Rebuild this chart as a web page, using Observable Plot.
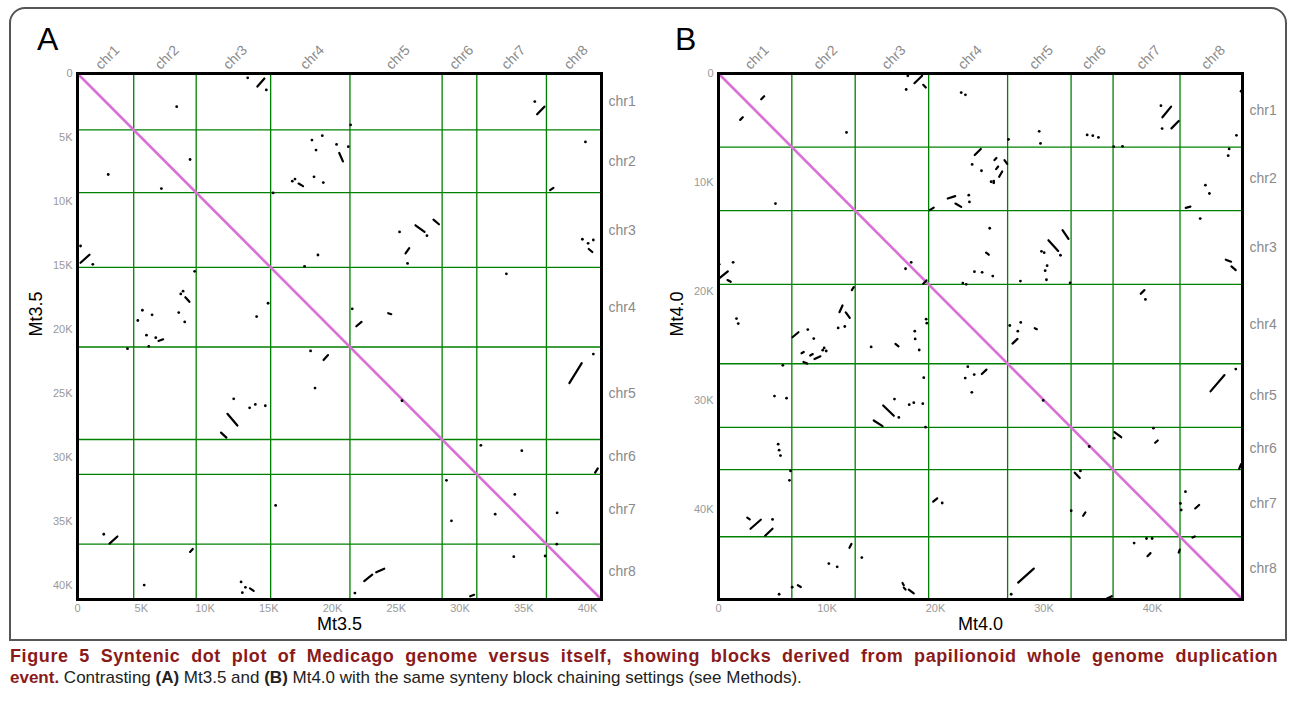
<!DOCTYPE html>
<html><head><meta charset="utf-8">
<script src="https://cdn.jsdelivr.net/npm/d3@7"></script>
<script src="https://cdn.jsdelivr.net/npm/@observablehq/plot@0.6"></script>
<style>
body{margin:0;background:#fff;font-family:"Liberation Sans",Arial,Helvetica,sans-serif;}
#wrap{position:relative;width:1290px;height:702px;overflow:hidden;background:#fff;}
#box{position:absolute;left:9px;top:7px;width:1274px;height:630px;border:2px solid #555;border-radius:16px 16px 0 0;}
.panel{position:absolute;top:0;}
.letter{position:absolute;top:21px;font-size:32px;color:#000;}
#caption{position:absolute;left:10px;top:645px;width:1268px;font-size:17px;line-height:22px;color:#222;}
#caption .l1{text-align:justify;text-align-last:justify;font-weight:bold;color:#8b1a1a;font-size:18px;letter-spacing:0.6px;}
#caption b.t{color:#8b1a1a;}
</style>
</head><body>
<div id="wrap">
  <div id="box"></div>
  <div class="panel" id="pA" style="left:0px"></div>
  <div class="panel" id="pB" style="left:641px"></div>
  <div class="letter" style="left:37px">A</div>
  <div class="letter" style="left:675px">B</div>
  <div id="caption">
    <div class="l1">Figure 5 Syntenic dot plot of Medicago genome versus itself, showing blocks derived from papilionoid whole genome duplication</div>
    <div><b class="t">event.</b> Contrasting <b>(A)</b> Mt3.5 and <b>(B)</b> Mt4.0 with the same synteny block chaining settings (see Methods).</div>
  </div>
</div>
<script>
const FONT = "Liberation Sans, Arial, Helvetica, sans-serif";
const chrNames = ["chr1","chr2","chr3","chr4","chr5","chr6","chr7","chr8"];
// chromosome end positions (thousands of genes along the concatenated genome)
const chrEndsA = [4.41, 9.31, 15.15, 21.37, 28.6, 31.32, 36.78, 41.1];
const chrEndsB = [6.76, 12.6, 19.37, 26.65, 32.5, 36.37, 42.54, 48.3];
const ticksA = [0, 5, 10, 15, 20, 25, 30, 35, 40];
const ticksB = [0, 10, 20, 30, 40];
const labelA = "Mt3.5";
const labelB = "Mt4.0";

// single anchor points [x, y] (K)
const dotsA = [[13.35,0.34],[14.81,1.28],[7.78,2.59],[8.83,6.72],[2.41,7.89],[6.58,8.99],[15.34,9.33],[18.39,5.20],[18.71,5.98],[18.55,8.07],[17.06,8.25],[16.85,8.41],[35.87,2.19],[21.42,4.02],[19.20,4.86],[20.32,5.54],[21.24,5.72],[19.28,8.52],[39.84,5.35],[0.24,13.48],[1.20,14.91],[9.19,15.46],[8.28,17.01],[8.10,17.22],[5.09,18.50],[7.94,18.68],[5.85,18.86],[4.73,19.30],[8.41,19.41],[5.41,20.45],[6.14,20.64],[5.59,21.32],[3.92,21.50],[17.81,15.07],[18.86,14.18],[14.95,17.95],[14.05,18.99],[18.28,21.68],[18.63,24.58],[12.25,25.42],[13.50,26.12],[13.95,25.86],[14.73,25.96],[25.26,12.38],[27.41,12.67],[25.89,14.84],[39.60,12.95],[40.05,13.27],[40.46,13.01],[33.64,15.65],[21.55,18.39],[25.45,25.57],[40.46,21.92],[15.54,33.75],[2.06,36.00],[5.23,39.97],[12.83,39.73],[13.17,40.15],[12.93,40.57],[31.64,29.05],[34.85,29.47],[28.94,31.79],[34.30,32.89],[32.76,34.43],[37.62,34.33],[29.33,34.95],[37.59,36.78],[34.22,37.75],[36.68,37.70],[21.76,40.60]];
// synteny block segments [x1, y1, x2, y2] (K)
const segsA = [[14.11,1.02,14.66,0.39],[17.34,8.60,17.69,8.80],[36.05,3.19,36.62,2.59],[20.53,6.21,20.82,6.87],[37.07,9.11,37.33,8.93],[0.24,14.79,0.94,14.16],[8.46,17.48,8.78,17.84],[6.35,20.90,6.72,20.77],[11.76,26.59,12.54,27.51],[11.26,28.06,11.68,28.45],[26.51,11.86,27.22,12.38],[27.92,11.42,28.35,11.78],[25.73,14.05,26.02,13.64],[40.10,13.71,40.38,13.95],[21.87,19.75,22.28,19.41],[24.37,18.73,24.61,18.81],[19.30,22.39,19.65,22.00],[38.58,24.19,39.55,22.63],[2.51,36.73,3.13,36.18],[8.83,37.38,9.04,37.15],[13.53,40.23,13.82,40.42],[40.60,31.19,40.81,30.85],[22.49,39.66,23.12,39.16],[23.43,38.97,24.06,38.69],[30.80,40.85,31.11,40.73]];

const dotsB = [[11.80,5.41],[17.30,1.47],[17.45,0.21],[22.37,1.75],[22.76,1.96],[23.07,11.17],[48.17,1.63],[40.78,2.95],[40.89,5.06],[47.74,5.68],[26.73,6.05],[29.56,5.31],[29.68,6.42],[33.98,5.64],[34.50,5.71],[35.02,5.87],[36.43,6.72],[37.24,6.69],[47.07,6.93],[46.98,7.55],[23.38,8.35],[24.24,8.93],[25.13,9.94],[25.37,9.88],[25.37,10.04],[44.88,10.25],[45.25,11.02],[5.25,11.94],[23.13,11.79],[0.06,17.52],[1.35,17.34],[17.76,17.34],[17.24,17.93],[22.52,19.24],[22.83,19.36],[1.66,22.50],[1.82,22.96],[19.14,22.56],[19.20,22.93],[11.03,23.36],[11.64,23.23],[8.23,23.51],[8.78,24.34],[18.09,23.66],[18.13,24.37],[14.07,25.11],[18.50,25.39],[9.74,25.20],[9.93,25.48],[9.61,25.41],[5.93,26.80],[22.98,26.92],[22.74,27.97],[18.92,27.93],[5.16,29.62],[6.27,29.81],[16.22,29.90],[16.62,31.58],[17.58,30.41],[18.00,30.23],[18.83,30.32],[19.08,32.48],[5.50,34.04],[5.59,34.59],[5.71,35.08],[6.64,36.49],[6.54,37.36],[4.98,40.95],[13.21,44.45],[10.17,45.00],[10.94,45.30],[5.59,47.82],[6.79,47.17],[1.54,48.28],[20.62,39.44],[44.40,13.32],[25.00,14.21],[29.77,16.33],[30.02,16.45],[31.52,16.69],[30.29,17.65],[30.11,18.11],[23.59,18.20],[24.30,18.26],[25.28,18.60],[30.23,18.94],[27.83,19.06],[32.41,19.22],[39.35,20.75],[26.85,23.14],[27.86,22.86],[27.59,23.66],[23.57,27.65],[23.35,29.28],[29.93,30.02],[47.68,27.14],[36.47,33.49],[40.09,32.57],[34.17,34.25],[33.36,36.49],[43.04,38.40],[42.58,39.48],[42.65,40.08],[32.51,40.15],[38.31,43.12],[39.45,42.70],[39.97,42.70],[26.98,47.82]];
const segsB = [[2.00,4.26,2.24,4.02],[3.94,2.37,4.21,2.09],[18.06,0.89,18.77,0.21],[18.87,1.04,19.11,1.29],[21.13,11.48,21.82,11.26],[40.92,4.02,41.72,3.04],[41.75,5.04,42.42,4.36],[23.62,7.49,24.18,6.93],[25.44,7.95,25.62,7.76],[26.36,7.95,26.61,8.29],[25.59,8.78,25.78,8.54],[25.87,9.48,26.15,9.00],[19.47,12.55,19.84,12.31],[21.84,11.94,22.37,12.25],[0.06,18.81,0.86,18.17],[0.83,18.97,1.13,19.13],[18.87,19.31,19.17,19.00],[12.29,19.89,12.47,19.61],[11.15,21.92,11.43,21.30],[11.73,21.94,12.10,22.44],[6.82,24.22,7.37,23.76],[16.31,24.83,16.59,25.05],[7.65,25.69,7.86,25.57],[8.45,25.90,8.69,25.76],[8.85,26.22,9.40,25.97],[7.83,26.49,8.18,26.64],[15.18,30.48,16.16,31.43],[14.31,31.86,15.12,32.38],[2.65,40.79,2.88,40.95],[2.95,41.80,3.90,40.98],[4.30,42.45,4.98,41.80],[12.07,43.55,12.26,43.19],[7.31,46.99,7.59,47.15],[16.96,46.78,17.08,46.99],[17.08,47.21,17.24,47.39],[17.54,47.39,18.00,47.73],[19.79,39.32,20.16,39.01],[43.07,12.34,43.50,12.22],[31.71,14.39,32.26,15.19],[30.41,15.31,31.31,16.30],[24.67,16.45,24.91,16.64],[46.76,17.10,47.25,17.28],[47.28,17.71,47.68,18.05],[38.92,20.23,39.26,19.89],[29.15,23.39,29.34,23.48],[27.10,24.80,27.56,24.37],[24.27,27.60,24.70,27.19],[45.35,29.19,46.64,27.69],[36.50,32.94,37.12,33.40],[40.25,33.91,40.49,33.70],[47.99,36.31,48.17,35.88],[32.84,36.65,33.30,37.14],[43.94,39.94,44.30,39.62],[33.61,40.61,33.82,40.30],[43.69,42.61,43.90,42.51],[39.54,44.32,39.82,44.04],[42.42,43.99,42.52,43.71],[27.62,46.75,29.06,45.46],[35.67,48.28,36.25,48.00]];

function panel(o) {
  const end = o.ends[o.ends.length - 1];
  const starts = [0, ...o.ends.slice(0, -1)];
  const chrs = chrNames.map((name, i) => ({name, mid: (starts[i] + o.ends[i]) / 2}));
  const inner = o.ends.slice(0, -1);
  const fmt = d => d === 0 ? "0" : d + "K";
  return Plot.plot({
    width: 640, height: 640,
    marginLeft: 77, marginRight: 39, marginTop: 73, marginBottom: 41,
    style: {fontFamily: FONT, background: "transparent", overflow: "visible"},
    x: {domain: [0, end]},
    y: {domain: [0, end], reverse: true},
    marks: [
      Plot.ruleX(inner, {stroke: "#008000", strokeWidth: 1.3}),
      Plot.ruleY(inner, {stroke: "#008000", strokeWidth: 1.3}),
      Plot.link([end], {x1: 0, y1: 0, x2: d => d, y2: d => d, stroke: "#DA70D6", strokeWidth: 2.6}),
      Plot.link(o.segs, {x1: d => d[0], y1: d => d[1], x2: d => d[2], y2: d => d[3], stroke: "#000", strokeWidth: 2.2, strokeLinecap: "round"}),
      Plot.dot(o.dots, {x: d => d[0], y: d => d[1], r: 1.4, fill: "#000"}),
      Plot.frame({stroke: "#000", strokeWidth: 3}),
      Plot.axisX(o.ticks, {anchor: "bottom", tickSize: 0, tickPadding: 5, tickFormat: fmt, fill: "#999", fontSize: 11, label: null}),
      Plot.axisY(o.ticks, {anchor: "left", tickSize: 0, tickPadding: 5, tickFormat: fmt, fill: "#999", fontSize: 11, label: null}),
      Plot.text(chrs, {x: "mid", text: "name", frameAnchor: "top", dx: -2, dy: -20, rotate: -45, textAnchor: "middle", fill: "#8a8a8a", fontSize: 14}),
      Plot.text(chrs, {y: "mid", text: "name", frameAnchor: "right", dx: 7, textAnchor: "start", fill: "#8a8a8a", fontSize: 14}),
      Plot.text([o.label], {text: d => d, frameAnchor: "bottom", dy: 30, fontSize: 18, fill: "#000"}),
      Plot.text([o.label], {text: d => d, frameAnchor: "left", dx: -41, rotate: -90, fontSize: 18, fill: "#000"})
    ]
  });
}

document.getElementById("pA").appendChild(panel({ends: chrEndsA, ticks: ticksA, dots: dotsA, segs: segsA, label: labelA}));
document.getElementById("pB").appendChild(panel({ends: chrEndsB, ticks: ticksB, dots: dotsB, segs: segsB, label: labelB}));
</script>
</body></html>
